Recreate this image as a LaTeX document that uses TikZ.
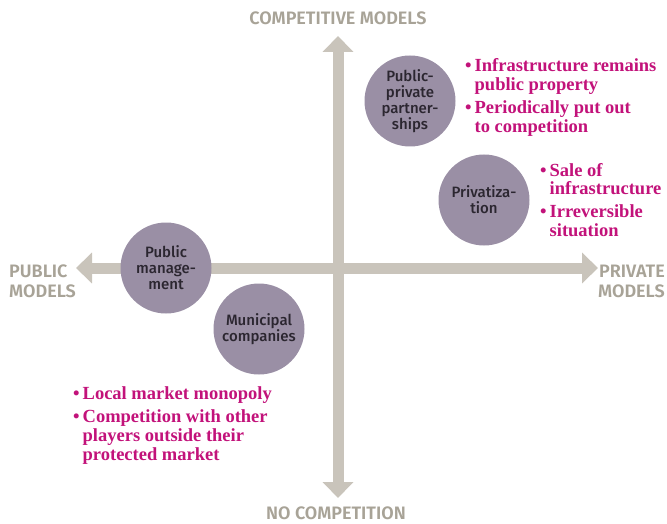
\documentclass[tikz,border=0pt]{standalone}
\usepackage{fontspec}
\setmainfont{Liberation Serif}
\newfontfamily\circfont{Fira Sans Medium}
\newfontfamily\axisfont{Fira Sans SemiBold}
\usetikzlibrary{arrows.meta}

\definecolor{axisgray}{HTML}{C9C4BB}
\definecolor{labelgray}{HTML}{A8A397}
\definecolor{circfill}{HTML}{9A8FA5}
\definecolor{circtext}{HTML}{2B2630}
\definecolor{notecolor}{HTML}{C2127A}

\tikzset{
  axis/.style={draw=axisgray, line width=11pt,
    {Triangle[width=30pt,length=16pt]}-{Triangle[width=30pt,length=16pt]}},
  model/.style={circle, fill=circfill, minimum size=91pt, inner sep=0pt,
    align=center, text=circtext, font=\circfont\fontsize{15}{16}\selectfont},
  axislabel/.style={inner sep=0pt, text=labelgray,
    font=\axisfont\fontsize{18}{20}\selectfont},
  notes/.style={inner sep=0pt, anchor=base west, text=notecolor,
    font=\bfseries\fontsize{18.5}{19}\selectfont}
}

\newcommand{\bulletlist}[1]{%
  \begin{tabular}[t]{@{}l@{\hspace{3pt}}l@{}}#1\end{tabular}}

\begin{document}
\begin{tikzpicture}[x=1pt,y=-1pt]
  \useasboundingbox (0,0) rectangle (667,524);

  % axis end points
  \coordinate (top) at (338,36);
  \coordinate (bottom) at (338,498);
  \coordinate (left) at (76,268);
  \coordinate (right) at (598,268);

  % the two axes
  \draw[axis] (bottom) -- (top);
  \draw[axis] (left) -- (right);

  % axis labels
  \node[axislabel, anchor=base] (competitive) at (338,25) {COMPETITIVE MODELS};
  \node[axislabel, anchor=base] (nocompetition) at (336,519) {NO COMPETITION};
  \node[axislabel, anchor=base west] (public) at (9,277)
    {\begin{tabular}[t]{@{}l@{}}PUBLIC\\MODELS\end{tabular}};
  \node[axislabel, anchor=base east] (private) at (665,277)
    {\begin{tabular}[t]{@{}r@{}}PRIVATE\\MODELS\end{tabular}};

  % management models
  \node[model] (ppp) at (410,101) {Public-\\private\\partner-\\ships};
  \node[model] (privatization) at (484,200) {Privatiza-\\tion};
  \node[model] (publicmgmt) at (166,268) {Public\\manage-\\ment};
  \node[model] (municipal) at (259,329) {Municipal\\companies};

  % characteristics
  \node[notes] (pppnotes) at (465,72) {\bulletlist{%
    \textbullet & Infrastructure remains\\
                & public property\\[4pt]
    \textbullet & Periodically put out\\
                & to competition}};
  \node[notes] (privnotes) at (540,176) {\bulletlist{%
    \textbullet & Sale of\\
                & infrastructure\\[4pt]
    \textbullet & Irreversible\\
                & situation}};
  \node[notes] (municipalnotes) at (73,399) {\bulletlist{%
    \textbullet & Local market monopoly\\[4pt]
    \textbullet & Competition with other\\
                & players outside their\\
                & protected market}};
\end{tikzpicture}
\end{document}
